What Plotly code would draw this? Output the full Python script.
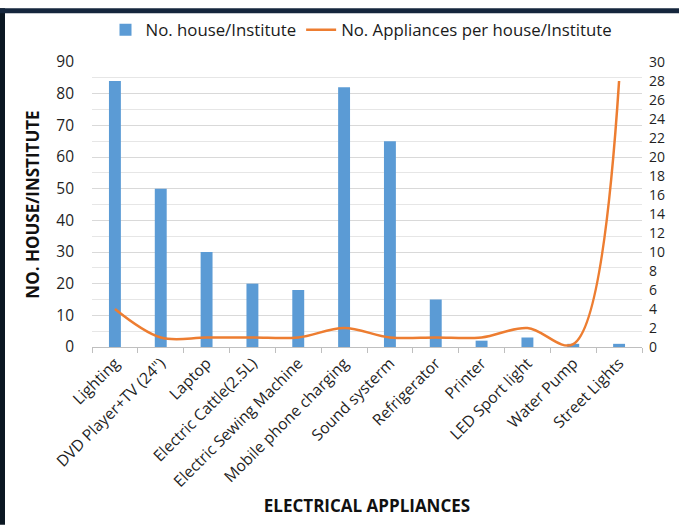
import plotly.graph_objects as go

categories = ["Lighting", "DVD Player+TV (24\")", "Laptop", "Electric Cattle(2.5L)",
              "Electric Sewing Machine", "Mobile phone charging", "Sound systerm",
              "Refrigerator", "Printer", "LED Sport light", "Water Pump", "Street Lights"]
houses = [84, 50, 30, 20, 18, 82, 65, 15, 2, 3, 1, 1]
appliances_per_house = [4, 1, 1, 1, 1, 2, 1, 1, 1, 2, 0.3, 28]

W, H = 679, 529
L, R, T, B = 92, 37, 55, 182
pw, ph = W - L - R, H - T - B

fig = go.Figure()
fig.add_trace(go.Bar(x=categories, y=houses, name="No. house/Institute",
                     marker=dict(color="#5b9bd5", line=dict(width=0))))
fig.add_trace(go.Scatter(x=categories, y=appliances_per_house, yaxis="y2",
                         name="No. Appliances per house/Institute", mode="lines",
                         line=dict(color="#ed7d31", width=2.5, shape="spline", smoothing=1)))

font = "Open Sans, Noto Sans, sans-serif"
fig.update_layout(
    width=W, height=H,
    margin=dict(l=L, r=R, t=T, b=B, pad=0),
    paper_bgcolor="white", plot_bgcolor="white",
    font=dict(family=font, color="#1f1f1f", size=14),
    bargap=0.74,
    showlegend=True,
    legend=dict(orientation="h", x=0.49, xanchor="center", y=1 + 33 / ph, yanchor="middle",
                font=dict(size=16.8, color="#1a1a1a"), itemwidth=30, tracegroupgap=0,
                bgcolor="rgba(0,0,0,0)"),
    xaxis=dict(type="category", showgrid=False, showline=True, linecolor="#bfbfbf",
               ticks="outside", tickson="boundaries", ticklen=5, tickcolor="#bfbfbf",
               tickangle=-45, tickfont=dict(size=15.7, color="#1f1f1f"),
               title=dict(text="<b>ELECTRICAL APPLIANCES</b>", font=dict(size=17, color="#111"),
                          standoff=9)),
    yaxis=dict(range=[0, 90], dtick=10, showgrid=True, gridcolor="#d9d9d9", gridwidth=1,
               minor=dict(dtick=5, showgrid=True, gridcolor="#e6e6e6", gridwidth=1),
               zeroline=False, showline=False, ticks="", ticklabelstandoff=17,
               tickfont=dict(size=15.5, color="#1f1f1f"),
               title=dict(text="<b>NO. HOUSE/INSTITUTE</b>", font=dict(size=17, color="#111"),
                          standoff=12)),
    yaxis2=dict(range=[0, 30], dtick=2, overlaying="y", side="right", showgrid=False,
                zeroline=False, showline=False, ticks="", ticklabelstandoff=6,
                tickfont=dict(size=14, color="#1f1f1f")),
    shapes=[
        dict(type="rect", xref="paper", yref="paper", layer="above",
             x0=-L / pw, x1=-(L - 5) / pw, y0=-B / ph, y1=1 + T / ph,
             fillcolor="#0b1722", line=dict(width=0)),
        dict(type="rect", xref="paper", yref="paper", layer="above",
             x0=-L / pw, x1=1 + R / pw, y0=1 + (T - 5) / ph, y1=1 + T / ph,
             fillcolor="#15263d", line=dict(width=0)),
    ],
)

fig.write_html("out.html")
